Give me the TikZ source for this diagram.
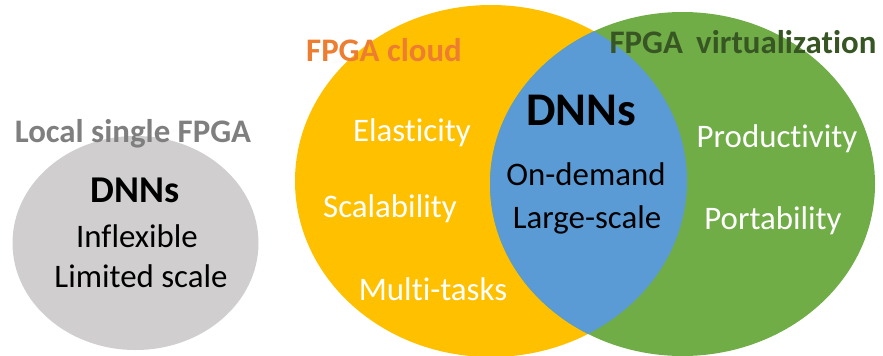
\documentclass[tikz,border=0pt]{standalone}
\usepackage{fontspec}
\setmainfont{Carlito}[Ligatures={NoCommon,NoContextual}]
\definecolor{cyellow}{HTML}{FFC000}
\definecolor{cgreen}{HTML}{70AD47}
\definecolor{cblue}{HTML}{5B9BD5}
\definecolor{cgray}{HTML}{D0CECE}
\definecolor{corange}{HTML}{ED7D31}
\definecolor{cdgreen}{HTML}{375623}
\definecolor{cgtext}{HTML}{7F7F7F}
\begin{document}
\begin{tikzpicture}[x=1bp,y=-1bp,
  txt/.style={font=\fontsize{33}{36}\selectfont, inner sep=0pt, anchor=center},
  wtxt/.style={txt, text=white},
  btxt/.style={txt, text=black},
  ttl/.style={font=\bfseries\fontsize{33}{36}\selectfont, inner sep=0pt, anchor=center}]
\useasboundingbox (0,0) rectangle (883,355);
% ellipses
\fill[cgray] (135.5,243) ellipse [x radius=123, y radius=107];
\fill[cyellow] (491,181) ellipse [x radius=196, y radius=176];
\fill[cgreen] (682.5,184) ellipse [x radius=192.5, y radius=172];
\begin{scope}
  \clip (491,181) ellipse [x radius=196, y radius=176];
  \fill[cblue] (682.5,184) ellipse [x radius=192.5, y radius=172];
\end{scope}
% gray
\node[ttl, text=cgtext] (local) at (133,134) {Local single FPGA};
\node[btxt, font=\bfseries\fontsize{38}{40}\selectfont] (dnn1) at (135,190) {DNNs};
\node[btxt] (infl) at (137,236) {Inflexible};
\node[btxt] (lim) at (141,276) {Limited scale};
% yellow
\node[ttl, text=corange] (cloud) at (384,50) {FPGA cloud};
\node[wtxt] (elas) at (412,133) {Elasticity};
\node[wtxt] (scal) at (390,209) {Scalability};
\node[wtxt] (mult) at (433,289) {Multi-tasks};
% blue
\node[btxt, font=\bfseries\fontsize{47}{49}\selectfont] (dnn2) at (581,110) {DNNs};
\node[btxt] (ond) at (586,174) {On-demand};
\node[btxt] (large) at (587,220) {Large-scale};
% green
\node[ttl, text=cdgreen] (virt) at (743,42) {FPGA\hspace{0.4em}virtualization};
\node[wtxt] (prod) at (777,139) {Productivity};
\node[wtxt] (port) at (773,221) {Portability};
\end{tikzpicture}
\end{document}
